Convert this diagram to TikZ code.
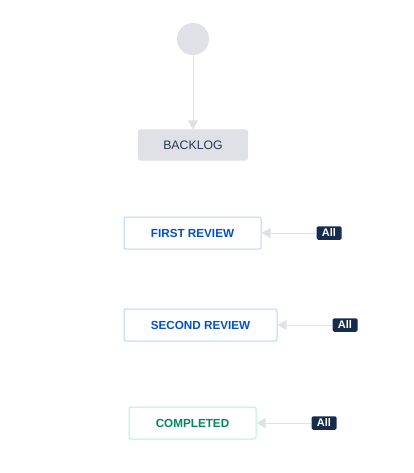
\documentclass[tikz,border=0pt]{standalone}
\usepackage{fontspec}
\setmainfont{Liberation Sans}
\usetikzlibrary{arrows.meta}

\definecolor{startgray}{HTML}{DFE1E6}
\definecolor{linegray}{HTML}{DFE1E6}
\definecolor{darktext}{HTML}{253858}
\definecolor{bluetext}{HTML}{0052CC}
\definecolor{blueline}{HTML}{B3D4FF}
\definecolor{greentext}{HTML}{00875A}
\definecolor{greenline}{HTML}{ABF5D1}
\definecolor{badgenavy}{HTML}{172B4D}

\tikzset{
  status/.style={rounded corners=2pt, font=\fontsize{11.7}{13}\selectfont\bfseries, minimum height=32pt, inner sep=0pt, line width=1pt},
  todo/.style={status, fill=startgray, draw=startgray, text=darktext, font=\fontsize{12.3}{13}\selectfont, minimum width=109pt, minimum height=30pt},
  progress/.style={status, draw=blueline, fill=white, text=bluetext},
  done/.style={status, draw=greenline, fill=white, text=greentext},
  allbadge/.style={fill=badgenavy, text=white, rounded corners=1.5pt, font=\fontsize{11}{12}\selectfont\bfseries, inner sep=0pt, minimum width=25pt, minimum height=13.5pt},
  flow/.style={draw=linegray, line width=1pt, -{Triangle[length=9pt,width=10pt]}}
}

\begin{document}
\begin{tikzpicture}[x=1pt,y=-1pt]
	\useasboundingbox (0,0) rectangle (414,473);
	%start
	\node[circle, fill=startgray, minimum size=32pt, inner sep=0pt] (start) at (193,39) {};
	\node[todo] (backlog) at (193,145) {BACKLOG};
	\draw[flow] (start) -- (backlog);

	\node[progress, minimum width=137pt] (first) at (192.5,233) {FIRST REVIEW};
	\node[allbadge] (all1) at (329,233) {All};
	\draw[flow] (all1) -- (first);

	\node[progress, minimum width=153pt] (second) at (200.5,325) {SECOND REVIEW};
	\node[allbadge] (all2) at (345,325) {All};
	\draw[flow] (all2) -- (second);

	\node[done, minimum width=127pt] (completed) at (192.5,423) {COMPLETED};
	\node[allbadge] (all3) at (324,423) {All};
	\draw[flow] (all3) -- (completed);
\end{tikzpicture}
\end{document}
